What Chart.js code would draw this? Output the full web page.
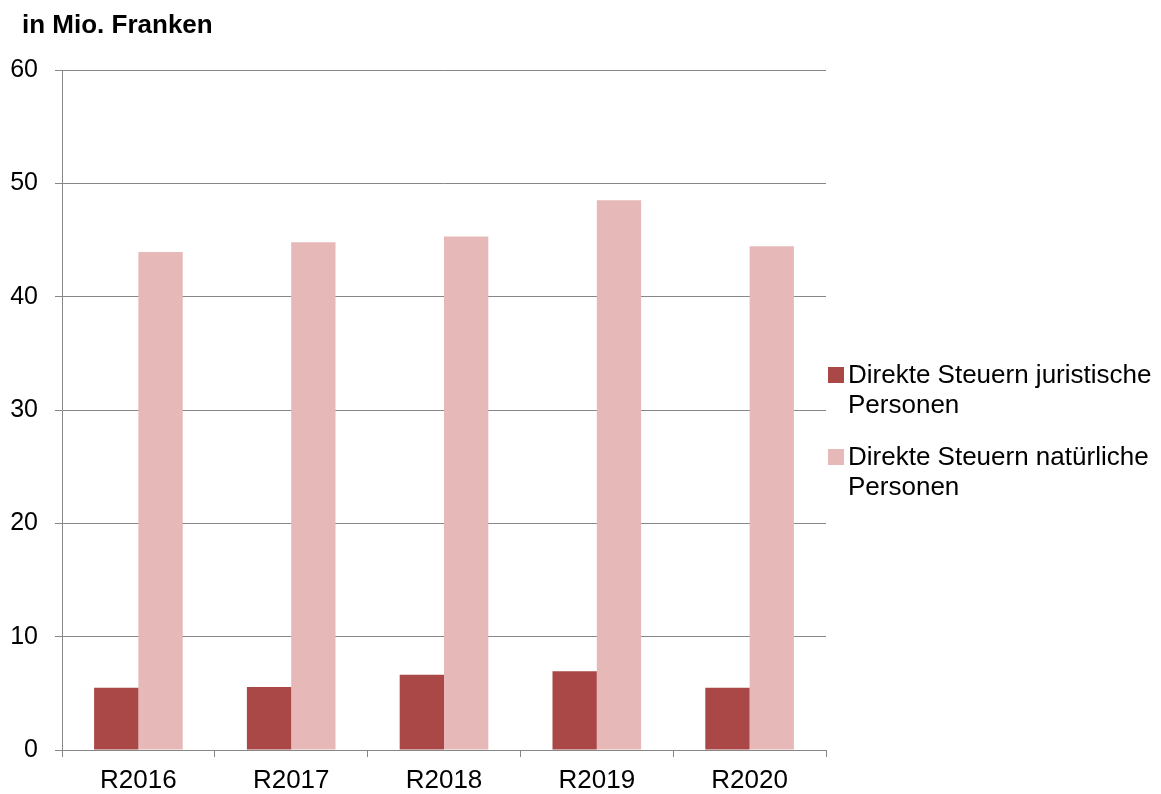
<!DOCTYPE html>
<html>
<head>
<meta charset="utf-8">
<script src="https://cdn.jsdelivr.net/npm/chart.js@4.4.1/dist/chart.umd.min.js"></script>
<style>
  html, body { margin: 0; padding: 0; background: #fff; }
  #wrap { width: 1161px; height: 794px; }
</style>
</head>
<body>
<div id="wrap"><canvas id="chart" width="1161" height="794"></canvas></div>
<script>
const years = ['R2016', 'R2017', 'R2018', 'R2019', 'R2020']
const juristische = [5.5, 5.55, 6.65, 6.95, 5.5]
const natuerliche = [43.95, 44.8, 45.3, 48.5, 44.45]
const seriesLabels = [
  ['Direkte Steuern juristische', 'Personen'],
  ['Direkte Steuern natürliche', 'Personen'],
]
const yTicks = [0, 10, 20, 30, 40, 50, 60]
const unitTitle = 'in Mio. Franken'

const FONT = '"Liberation Sans", Arial, sans-serif'
const GRID = '#878787'

// unit title top left + legend on the right (two lines per entry)
const sideText = {
  id: 'sideText',
  afterDraw(chart) {
    const { ctx, chartArea } = chart
    ctx.save()
    ctx.textBaseline = 'alphabetic'
    ctx.textAlign = 'left'
    ctx.fillStyle = '#000'
    ctx.font = 'bold 26px ' + FONT
    ctx.fillText(unitTitle, 22, 33)

    ctx.font = '26px ' + FONT
    chart.data.datasets.forEach((ds, i) => {
      const base = 383 + i * 82
      ctx.fillStyle = ds.backgroundColor
      ctx.fillRect(chartArea.right + 2, base - 16, 16, 16)
      ctx.fillStyle = '#000'
      ds.label.forEach((line, j) => {
        ctx.fillText(line, chartArea.right + 22, base + j * 30)
      })
    })
    ctx.restore()
  },
}

new Chart('chart', {
  type: 'bar',
  data: {
    labels: years,
    datasets: [
      {
        label: seriesLabels[0],
        data: juristische,
        backgroundColor: '#a94846',
        categoryPercentage: 0.58,
        barPercentage: 1,
      },
      {
        label: seriesLabels[1],
        data: natuerliche,
        backgroundColor: '#e6b8b8',
        categoryPercentage: 0.58,
        barPercentage: 1,
      },
    ],
  },
  options: {
    responsive: false,
    animation: false,
    layout: {
      padding: { top: 70, left: 0, right: 335, bottom: 0 },
    },
    plugins: {
      legend: { display: false },
      tooltip: { enabled: false },
      title: { display: false },
    },
    scales: {
      x: {
        grid: {
          offset: true,
          drawOnChartArea: false,
          drawTicks: true,
          tickLength: 7,
          color: GRID,
        },
        border: { color: GRID, width: 1 },
        ticks: {
          color: '#000',
          padding: 8,
          font: { family: FONT, size: 26 },
        },
        afterFit(scale) { scale.height = 44 },
      },
      y: {
        min: 0,
        max: 60,
        afterBuildTicks(scale) { scale.ticks = yTicks.map(v => ({ value: v })) },
        grid: {
          color: GRID,
          tickLength: 7,
        },
        border: { color: GRID, width: 1 },
        ticks: {
          color: '#000',
          padding: 17,
          font: { family: FONT, size: 25 },
        },
        afterFit(scale) { scale.width = 62 },
      },
    },
  },
  plugins: [sideText],
})
</script>
</body>
</html>
